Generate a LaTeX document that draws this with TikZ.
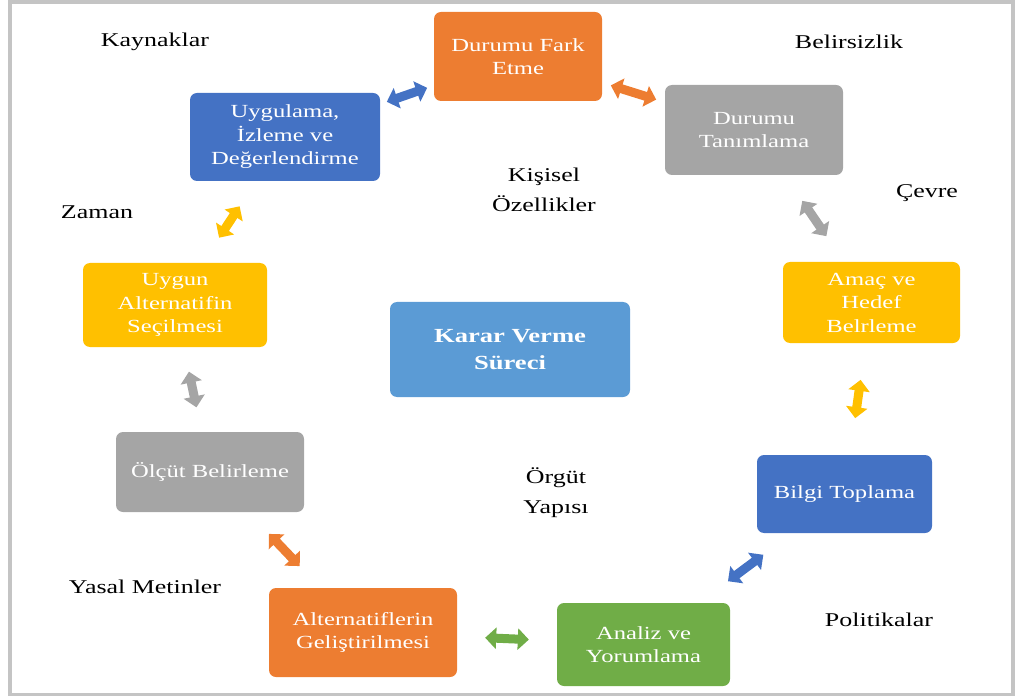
\documentclass[tikz,border=0pt]{standalone}
\usepackage{fontspec}
\setmainfont{Liberation Serif}[FakeStretch=1.33]
\usetikzlibrary{arrows.meta}

\definecolor{cOrange}{HTML}{ED7D31}
\definecolor{cGray}{HTML}{A5A5A5}
\definecolor{cYellow}{HTML}{FFC000}
\definecolor{cBlue}{HTML}{4472C4}
\definecolor{cGreen}{HTML}{70AD47}
\definecolor{cSky}{HTML}{5B9BD5}
\definecolor{cFrame}{HTML}{C4C4C4}

\tikzset{
  stepbox/.style={rectangle, rounded corners=7pt, draw=none, text=white,
    align=center, inner sep=0pt, font=\fontsize{18.5}{23.5}\selectfont},
  factor/.style={align=center, inner sep=0pt, text=black,
    font=\fontsize{19.5}{30}\selectfont},
  dblarrow/.style={line width=9pt,
    {Triangle[width=21pt,length=11pt]}-{Triangle[width=21pt,length=11pt]}},
}

\begin{document}
\begin{tikzpicture}[x=1pt,y=-1pt]
\useasboundingbox (0,0) rectangle (1019,700);

% outer frame
\draw[cFrame, line width=3.5pt] (10,1.8) rectangle (1013,694.5);

% process steps
\node[stepbox, fill=cOrange, minimum width=168pt, minimum height=89pt] (fark) at (518,56.5) {Durumu Fark\\Etme};
\node[stepbox, fill=cGray, minimum width=178pt, minimum height=90pt] (tanim) at (754,130) {Durumu\\Tanımlama};
\node[stepbox, fill=cYellow, minimum width=177pt, minimum height=81pt] (amac) at (871.5,302.5) {Amaç ve\\Hedef\\Belrleme};
\node[stepbox, fill=cBlue, minimum width=175pt, minimum height=78pt] (bilgi) at (844.5,494) {Bilgi Toplama};
\node[stepbox, fill=cGreen, minimum width=173pt, minimum height=83pt] (analiz) at (643.5,644.5) {Analiz ve\\Yorumlama};
\node[stepbox, fill=cOrange, minimum width=188pt, minimum height=89pt] (altern) at (363,632.5) {Alternatiflerin\\Geliştirilmesi};
\node[stepbox, fill=cGray, minimum width=188pt, minimum height=80pt] (olcut) at (210,472) {Ölçüt Belirleme};
\node[stepbox, fill=cYellow, minimum width=184pt, minimum height=84pt] (uygun) at (175,305) {Uygun\\Alternatifin\\Seçilmesi};
\node[stepbox, fill=cBlue, minimum width=190pt, minimum height=88pt] (uygulama) at (285,137) {Uygulama,\\İzleme ve\\Değerlendirme};

% centre
\node[stepbox, fill=cSky, minimum width=240pt, minimum height=95pt,
  font=\fontsize{20}{27}\selectfont\bfseries] (karar) at (510,349.5) {Karar Verme\\Süreci};

% two-way links between consecutive steps
\draw[dblarrow, cBlue, shorten <=7pt, shorten >=7pt] (uygulama) -- (fark);
\draw[dblarrow, cOrange, shorten <=9pt, shorten >=9pt] (fark) -- (tanim);
\draw[dblarrow, cGray, shorten <=31pt, shorten >=31pt] (tanim) -- (amac);
\draw[dblarrow, cYellow, shorten <=37pt, shorten >=37pt] (amac) -- (bilgi);
\draw[dblarrow, cBlue, shorten <=36pt, shorten >=36pt] (bilgi) -- (analiz);
\draw[dblarrow, cGreen, shorten <=28pt, shorten >=28pt] (altern) -- (analiz);
\draw[dblarrow, cOrange, shorten <=30pt, shorten >=30pt] (olcut) -- (altern);
\draw[dblarrow, cGray, shorten <=25pt, shorten >=25pt] (uygun) -- (olcut);
\draw[dblarrow, cYellow, shorten <=30pt, shorten >=30pt] (uygulama) -- (uygun);

% influencing factors
\node[factor] (kaynak) at (155,42) {Kaynaklar};
\node[factor] (belirsiz) at (849,42) {Belirsizlik};
\node[factor] (zaman) at (97,212) {Zaman};
\node[factor] (kisisel) at (544,190) {Kişisel\\Özellikler};
\node[factor] (cevre) at (927,193) {Çevre};
\node[factor] (orgut) at (556,493) {Örgüt\\Yapısı};
\node[factor] (yasal) at (145,587) {Yasal Metinler};
\node[factor] (politika) at (879,620) {Politikalar};

\end{tikzpicture}
\end{document}
